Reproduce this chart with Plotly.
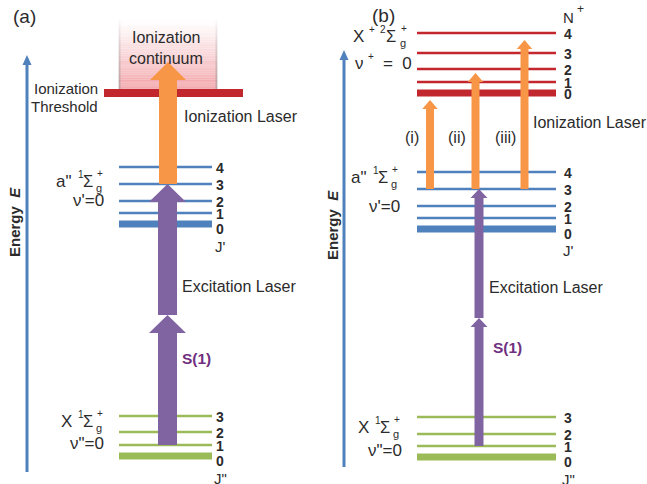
import plotly.graph_objects as go

W, H = 647, 484

# ---------------- data (energy in arbitrary units, higher = more energetic) ----------------
J_ground = [0, 1, 2, 3]
J_excited = [0, 1, 2, 3, 4]
N_ion = [0, 1, 2, 3, 4]

E_ground_a = [28, 39, 52, 68]
E_excited_a = [260, 271, 283, 300, 317]
E_threshold_a = 391
E_continuum_top_a = 464

E_ground_b = [27, 38, 50, 67]
E_excited_b = [255, 266, 278, 295, 312]
E_ion_b = [391, 402, 415, 431, 451]

J_from, J_to = 1, 3                    # S(1) excitation J''=1 -> J'=3
E_excite_split_a = 169
E_ionize_tip_a = 422
E_excite_split_b = 166
E_ionize_tips_b = [384, 411, 444]
ionize_labels_b = ["(i)", "(ii)", "(iii)"]

# ---------------- style ----------------
FONT = "Liberation Sans"
TXT = "#2b2b2b"
GREEN = "#9BBB59"
BLUE = "#4F81BD"
RED = "#C1272D"
PURPLE = "#8064A2"
ORANGE = "#F79646"
SPURPLE = "#70307F"


def Y(py):
    return H - py


fig = go.Figure()


def hline(x0, x1, e, color, width):
    fig.add_trace(go.Scatter(x=[x0, x1], y=[e, e], mode="lines",
                             line=dict(color=color, width=width),
                             hoverinfo="skip", showlegend=False))


def arrow(xc, e0, e1, shaft_w, head_w, head_len, color):
    xs = [xc - shaft_w / 2, xc - shaft_w / 2, xc - head_w / 2, xc,
          xc + head_w / 2, xc + shaft_w / 2, xc + shaft_w / 2, xc - shaft_w / 2]
    ys = [e0, e1 - head_len, e1 - head_len, e1, e1 - head_len, e1 - head_len, e0, e0]
    fig.add_trace(go.Scatter(x=xs, y=ys, mode="lines", fill="toself",
                             fillcolor=color, line=dict(width=0, color=color),
                             hoverinfo="skip", showlegend=False))


def text(x, py, s, size=16, color=TXT, xanchor="center", bold=False, angle=0):
    if bold:
        s = "<b>" + s + "</b>"
    fig.add_annotation(x=x, y=Y(py), text=s, showarrow=False, xanchor=xanchor,
                       yanchor="middle", textangle=angle,
                       font=dict(family=FONT, size=size, color=color))


def axis_arrow(x, py_bottom, py_tip):
    fig.add_trace(go.Scatter(x=[x, x], y=[Y(py_bottom), Y(py_tip) - 9], mode="lines",
                             line=dict(color=BLUE, width=3), hoverinfo="skip",
                             showlegend=False))
    arrow(x, Y(py_tip) - 9, Y(py_tip), 0, 9, 10, BLUE)


# ---------------- ionization continuum box (a) ----------------
n = 40
e_bot, e_top = E_threshold_a + 4, E_continuum_top_a
for i in range(n):
    f0 = i / n
    e0 = e_bot + (e_top - e_bot) * f0
    e1 = e_bot + (e_top - e_bot) * (i + 1) / n
    a = 0.52 * (1 - f0) ** 1.2
    fig.add_shape(type="rect", x0=119, x1=217, y0=e0, y1=e1 + 0.3,
                  fillcolor=f"rgba(234,110,118,{a:.3f})", line=dict(width=0), layer="below")
    ga = 0.5 * (1 - f0) ** 0.8
    for xx in (119.5, 216.5):
        fig.add_shape(type="line", x0=xx, x1=xx, y0=e0, y1=e1 + 0.3,
                      line=dict(color=f"rgba(150,150,150,{ga:.3f})", width=2), layer="below")

# ---------------- energy axes ----------------
axis_arrow(27, 472, 55)
axis_arrow(344, 467, 50)

# ---------------- levels panel (a) ----------------
XA0, XA1 = 119, 212
for J, e in zip(J_ground, E_ground_a):
    hline(XA0, XA1, e, GREEN, 7 if J == 0 else 2.5)
for J, e in zip(J_excited, E_excited_a):
    hline(XA0, XA1, e, BLUE, 7 if J == 0 else 2.5)
hline(104, 243, E_threshold_a, RED, 8)

# ---------------- levels panel (b) ----------------
XB0, XB1 = 417, 556
for J, e in zip(J_ground, E_ground_b):
    hline(XB0, XB1, e, GREEN, 7 if J == 0 else 2.5)
for J, e in zip(J_excited, E_excited_b):
    hline(XB0, XB1, e, BLUE, 7 if J == 0 else 2.5)
for N, e in zip(N_ion, E_ion_b):
    hline(XB0, XB1, e, RED, 7 if N == 0 else 2.5)

# ---------------- transitions (a) ----------------
e_start_a = E_ground_a[J_ground.index(J_from)]
e_end_a = E_excited_a[J_excited.index(J_to)]
arrow(167.5, e_start_a, E_excite_split_a, 19, 37, 18, PURPLE)
arrow(167.5, E_excite_split_a, e_end_a, 19, 37, 18, PURPLE)
arrow(168, e_end_a, E_ionize_tip_a, 18, 36, 18, ORANGE)

# ---------------- transitions (b) ----------------
e_start_b = E_ground_b[J_ground.index(J_from)]
e_end_b = E_excited_b[J_excited.index(J_to)]
arrow(479, e_start_b, E_excite_split_b, 9, 17, 9, PURPLE)
arrow(479, E_excite_split_b, e_end_b, 9, 17, 9, PURPLE)
for xc, tip in zip([430, 475.5, 524.5], E_ionize_tips_b):
    arrow(xc, e_end_b, tip, 8, 15.5, 9, ORANGE)

# ---------------- level labels ----------------
def level_labels(x, levels, nums, header, header_py, thick_off=5):
    for k, e in zip(nums, levels):
        py = H - e + (thick_off if k == 0 else 0.5)
        text(x, py, str(k), size=14, bold=True)
    text(x, header_py, header, size=15)


level_labels(220, E_ground_a, J_ground, 'J"', 478)
level_labels(220, E_excited_a, J_excited, "J'", 246)
level_labels(568, E_ground_b, J_ground, 'J"', 479)
level_labels(568, E_excited_b, J_excited, "J'", 250)
level_labels(568, E_ion_b, N_ion, "N", 17, thick_off=1)
text(580, 9, "+", size=12)

# ---------------- state labels ----------------
def sigma_label(x, py, lead, left_sup, g_dx=13):
    text(x, py, lead, size=17, xanchor="right")
    text(x + 2, py - 7, left_sup, size=10, xanchor="left")
    text(x + 7, py, "Σ", size=16.5, xanchor="left")
    text(x + 7 + g_dx, py + 7, "g", size=11, xanchor="left")
    text(x + 8 + g_dx, py - 8, "+", size=10, xanchor="left")


sigma_label(74, 181, 'a"', "1")
text(106, 200, "ν'=0", size=17, xanchor="right")
sigma_label(74, 421, "X", "1")
text(106, 443, 'ν"=0', size=17, xanchor="right")

sigma_label(369, 177, 'a"', "1")
text(402, 206, "ν'=0", size=17, xanchor="right")
sigma_label(371, 427, "X", "1")
text(404, 450, 'ν"=0', size=17, xanchor="right")

# X+ 2Sigma_g+ (b)
text(366, 36, "X", size=17, xanchor="right")
text(367, 29, "+", size=10, xanchor="left")
text(378, 29, "2", size=10, xanchor="left")
text(384, 36, "Σ", size=16.5, xanchor="left")
text(398, 43, "g", size=11, xanchor="left")
text(399, 28, "+", size=10, xanchor="left")
text(366, 63, "ν", size=17, xanchor="right")
text(366, 56, "+", size=10, xanchor="left")
text(414, 63, "=  0", size=17, xanchor="right")

# ---------------- other texts ----------------
text(24, 16, "(a)", size=19)
text(383, 15, "(b)", size=19)
text(166, 37, "Ionization", size=16)
text(166, 58, "continuum", size=16)
text(100, 88, "Ionization", size=15, xanchor="right")
text(100, 106, "Threshold", size=15, xanchor="right")
text(182, 116, "Ionization Laser", size=16, xanchor="left")
text(180, 286, "Excitation Laser", size=16, xanchor="left")
text(180, 358, "S(1)", size=15.5, xanchor="left", bold=True, color=SPURPLE)
text(531, 122, "Ionization Laser", size=16, xanchor="left")
text(487, 287, "Excitation Laser", size=16, xanchor="left")
text(491, 347, "S(1)", size=15.5, xanchor="left", bold=True, color=SPURPLE)
for xc, lab in zip([412, 457, 505], ionize_labels_b):
    text(xc, 137, lab, size=16)
text(14, 222, "<b>Energy  <i>E</i></b>", size=15, angle=-90)
text(332, 225, "<b>Energy  <i>E</i></b>", size=15, angle=-90)

fig.update_layout(
    width=W, height=H, margin=dict(l=0, r=0, t=0, b=0),
    paper_bgcolor="white", plot_bgcolor="white", showlegend=False,
    xaxis=dict(range=[0, W], visible=False, fixedrange=True),
    yaxis=dict(range=[0, H], visible=False, fixedrange=True),
)
fig.write_html("out.html", config={"displayModeBar": False},
               post_script="document.body.style.margin='0';document.body.style.overflow='hidden';")
